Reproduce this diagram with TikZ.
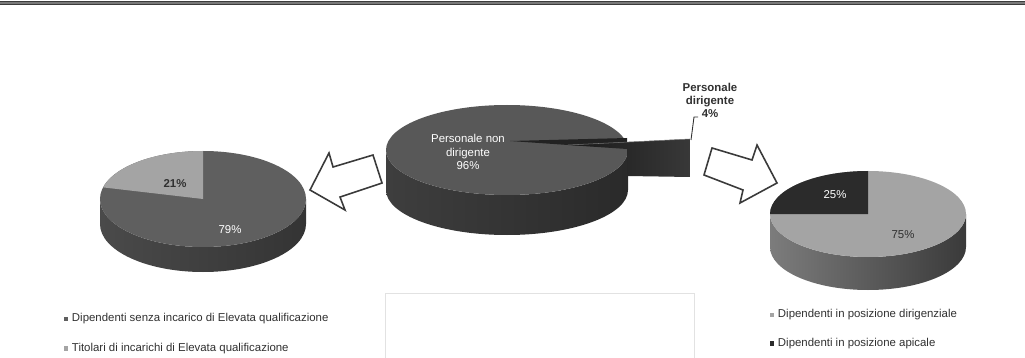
\documentclass[tikz,border=0pt]{standalone}
\usepackage{fontspec}
\setmainfont{Liberation Sans}
\usetikzlibrary{positioning,calc}
\definecolor{rulegray}{HTML}{7A7A7A}
\definecolor{ruledark}{HTML}{3C3C3C}
\definecolor{boxline}{HTML}{E2E2E2}
\definecolor{mainTop}{HTML}{585858}
\definecolor{mainSideL}{HTML}{3E3E3E}
\definecolor{mainSideM}{HTML}{464646}
\definecolor{mainSideR}{HTML}{2A2A2A}
\definecolor{midTop}{HTML}{5F5F5F}
\definecolor{midSideL}{HTML}{4A4A4A}
\definecolor{midSideR}{HTML}{343434}
\definecolor{lightTop}{HTML}{A4A4A4}
\definecolor{lightSideL}{HTML}{7C7C7C}
\definecolor{lightSideR}{HTML}{3A3A3A}
\definecolor{blackSlice}{HTML}{2B2B2B}
\definecolor{arrowline}{HTML}{3A3A3A}
\definecolor{darktext}{HTML}{303030}

\begin{document}
\begin{tikzpicture}[x=0.02cm, y=-0.02cm,
    lbl/.style={font=\fontsize{6.5}{7.9}\selectfont, inner sep=0pt, align=center},
    legtxt/.style={font=\fontsize{6.5}{7.9}\selectfont, inner sep=0pt, text=darktext},
    legbox/.style={rectangle, inner sep=0pt, minimum size=2.8pt},
    bigarrow/.style={draw=arrowline, fill=white, line width=0.9pt, line join=miter}
    ]
    \useasboundingbox (0,0) rectangle (1025,358);
    % rule at the top
    \fill[rulegray] (0,1.5) rectangle (1025,4.6);
    \draw[ruledark, line width=0.4pt] (0,1.8) -- (1025,1.8);
    \draw[ruledark, line width=0.4pt] (0,4.4) -- (1025,4.4);
    % empty frame below the middle
    \draw[boxline, line width=0.5pt] (385,360) |- (694,293) -- (694,360);
    
    % middle pie
    \coordinate (cMain) at (507,150);
    \shade[left color=mainSideL, middle color=mainSideM, right color=mainSideR]
    (386,150) arc[start angle=180, end angle=0, x radius=121, y radius=45]
    -- ++(0,40) arc[start angle=0, end angle=180, x radius=121, y radius=45] -- cycle;
    \fill[mainTop] (cMain) ellipse[x radius=121, y radius=45];
    \coordinate (vMain) at (510,141);
    \fill[blackSlice!80!black] (vMain) -- (627,138) -- (627,148) -- (568,145) -- cycle;
    \shade[left color=black!90, right color=black!78]
    (568,145) -- (690,139) -- (690,177) -- (627,176) -- (627,149) -- cycle;
    \draw[black!55, line width=0.3pt] (568,145) -- (690,139);
    \node[lbl, text=white] (lblMain) at (468,152) {Personale non\\dirigente\\96\%};
    \node[lbl, text=darktext, font=\fontsize{6.5}{7.4}\selectfont\bfseries] (lblSmall) at (710,100) {Personale\\dirigente\\4\%};
    \coordinate (leadA) at (698,117);
    \coordinate (wedgeTip) at (691,140);
    \draw[darktext, line width=0.5pt] (leadA) -- ++(-4,0) -- (wedgeTip);
    
    % left pie
    \coordinate (cLeft) at (203,199);
    \shade[left color=midSideL, right color=midSideR]
    (100,199) arc[start angle=180, end angle=0, x radius=103, y radius=48]
    -- ++(0,25) arc[start angle=0, end angle=180, x radius=103, y radius=48] -- cycle;
    \fill[midTop] (cLeft) ellipse[x radius=103, y radius=48];
    \fill[lightTop] (cLeft) -- ++(194:103 and 48)
    arc[start angle=194, end angle=270, x radius=103, y radius=48] -- cycle;
    \node[lbl, text=darktext, font=\fontsize{6.5}{7.9}\selectfont\bfseries] (p21) at (175,184) {21\%};
    \node[lbl, text=white] (p79) at (230,230) {79\%};
    
    % right pie
    \coordinate (cRight) at (868,214);
    \shade[left color=lightSideL, middle color=black!62, right color=lightSideR]
    (770,214) arc[start angle=180, end angle=0, x radius=98, y radius=43]
    -- ++(0,33) arc[start angle=0, end angle=180, x radius=98, y radius=43] -- cycle;
    \fill[lightTop] (cRight) ellipse[x radius=98, y radius=43];
    \fill[blackSlice] (cRight) -- ++(180:98 and 43)
    arc[start angle=180, end angle=270, x radius=98, y radius=43] -- cycle;
    \node[lbl, text=white] (p25) at (835,195) {25\%};
    \node[lbl, text=darktext] (p75) at (903,235) {75\%};
    
    % block arrows
    \draw[bigarrow] (310,190) -- (329,153) -- (333,167) -- (373,155) -- (382,183) -- (340,197) -- (345,210) -- cycle;
    \draw[bigarrow] (712,148) -- (752,160) -- (757,145) -- (777,183) -- (740,203) -- (743,190) -- (704,175) -- cycle;
    
    % legends
    \node[legbox, fill=midTop] (mkL1) at (66,319) {};
    \node[legtxt, right=1.6pt of mkL1] (txL1) {Dipendenti senza incarico di Elevata qualificazione};
    \node[legbox, fill=lightTop, below=0.48cm of mkL1] (mkL2) {};
    \node[legtxt, right=1.6pt of mkL2] (txL2) {Titolari di incarichi di Elevata qualificazione};
    
    \node[legbox, fill=lightTop] (mkR1) at (772,315) {};
    \node[legtxt, right=1.6pt of mkR1] (txR1) {Dipendenti in posizione dirigenziale};
    \node[legbox, fill=blackSlice, below=0.46cm of mkR1] (mkR2) {};
    \node[legtxt, right=1.6pt of mkR2] (txR2) {Dipendenti in posizione apicale};
\end{tikzpicture}
\end{document}
